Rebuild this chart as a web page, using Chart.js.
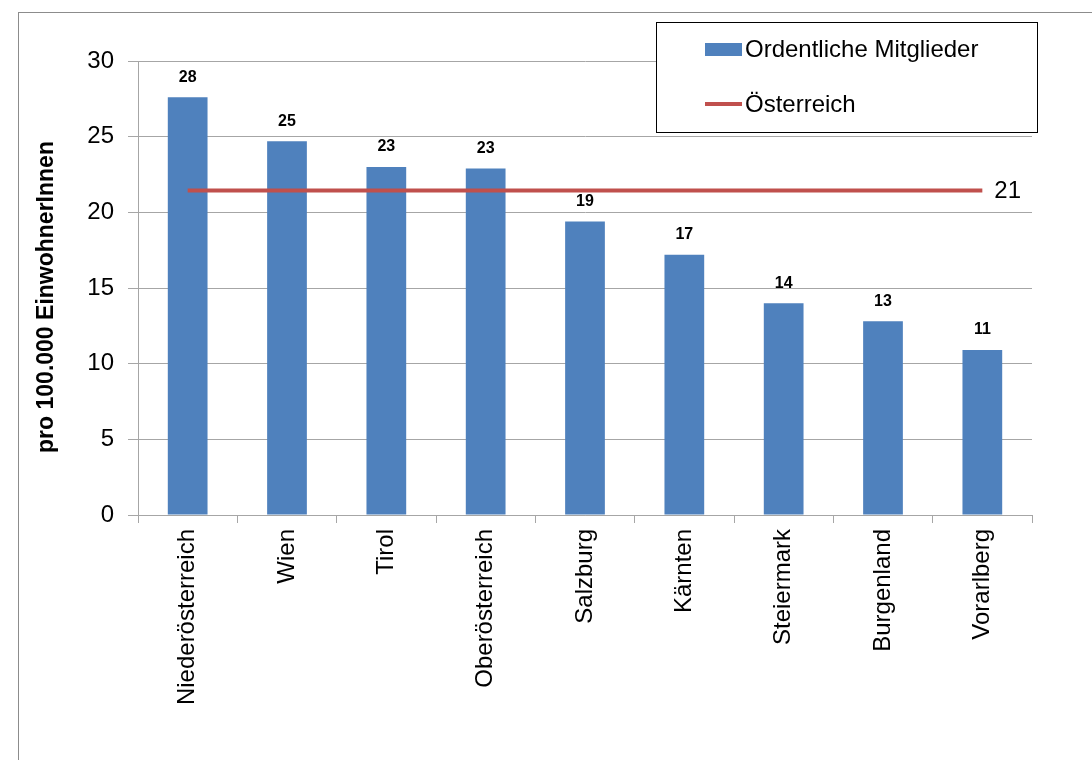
<!DOCTYPE html>
<html lang="de">
<head>
<meta charset="utf-8">
<title>Ordentliche Mitglieder pro 100.000 EinwohnerInnen</title>
<script src="https://cdn.jsdelivr.net/npm/chart.js@4/dist/chart.umd.min.js"></script>
<style>
  html, body { margin: 0; padding: 0; background: #fff; }
  #chart { display: block; }
</style>
</head>
<body>
<canvas id="chart" width="1092" height="760"></canvas>
<script>
// Bundesländer und Werte (Mitglieder pro 100.000 EinwohnerInnen)
const laender = ['Niederösterreich', 'Wien', 'Tirol', 'Oberösterreich', 'Salzburg', 'Kärnten', 'Steiermark', 'Burgenland', 'Vorarlberg'];
const mitglieder = [27.6, 24.7, 23.0, 22.9, 19.4, 17.2, 14.0, 12.8, 10.9];
const oesterreich = 21.45;
const yTicks = [0, 5, 10, 15, 20, 25, 30];

const FONT = "'Liberation Sans', Arial, sans-serif";
const BLAU = '#4f81bd';
const ROT = '#c0504d';
const GRAU = '#a6a6a6';

// Rahmen um die ganze Grafik
const frame = {
  id: 'frame',
  beforeDraw(chart) {
    const { ctx } = chart;
    ctx.save();
    ctx.fillStyle = '#fff';
    ctx.fillRect(0, 0, chart.width, chart.height);
    ctx.strokeStyle = '#8c8c8c';
    ctx.lineWidth = 1;
    ctx.strokeRect(18.5, 12.5, chart.width + 20, chart.height + 20);
    ctx.restore();
  },
};

// Zahlen über den Balken und Wert am Ende der Österreich-Linie
const valueLabels = {
  id: 'valueLabels',
  afterDatasetsDraw(chart) {
    const { ctx } = chart;
    ctx.save();
    ctx.fillStyle = '#000';
    ctx.textAlign = 'center';
    ctx.textBaseline = 'bottom';
    ctx.font = 'bold 16px ' + FONT;
    chart.getDatasetMeta(0).data.forEach((bar, i) => {
      ctx.fillText(Math.round(mitglieder[i]), bar.x, bar.y - 12);
    });
    const pts = chart.getDatasetMeta(1).data;
    const last = pts[pts.length - 1];
    ctx.font = '24px ' + FONT;
    ctx.textAlign = 'left';
    ctx.textBaseline = 'middle';
    ctx.fillText(Math.round(oesterreich), last.x + 12, last.y + 1);
    ctx.restore();
  },
};

// Legende im Kasten oben rechts, Achsentitel links
const legendBox = {
  id: 'legendBox',
  afterDraw(chart) {
    const { ctx } = chart;
    ctx.save();
    ctx.fillStyle = '#fff';
    ctx.fillRect(656, 22, 381, 110);
    ctx.strokeStyle = '#000';
    ctx.lineWidth = 1;
    ctx.strokeRect(656.5, 22.5, 381, 110);

    ctx.fillStyle = BLAU;
    ctx.fillRect(705, 43, 37, 13);
    ctx.strokeStyle = ROT;
    ctx.lineWidth = 4;
    ctx.beginPath();
    ctx.moveTo(705, 104);
    ctx.lineTo(742, 104);
    ctx.stroke();

    ctx.fillStyle = '#000';
    ctx.font = '24px ' + FONT;
    ctx.textBaseline = 'middle';
    ctx.textAlign = 'left';
    ctx.fillText(chart.data.datasets[0].label, 745, 50);
    ctx.fillText(chart.data.datasets[1].label, 745, 105);

    ctx.translate(47, 297);
    ctx.rotate(-Math.PI / 2);
    ctx.textAlign = 'center';
    ctx.font = 'bold 23px ' + FONT;
    ctx.fillText('pro 100.000 EinwohnerInnen', 0, 0);
    ctx.restore();
  },
};

new Chart(document.getElementById('chart'), {
  data: {
    labels: laender,
    datasets: [
      {
        type: 'line',
        label: 'Österreich',
        data: laender.map(() => oesterreich),
        borderColor: ROT,
        borderWidth: 4,
        pointRadius: 0,
        order: 0,
      },
      {
        type: 'bar',
        label: 'Ordentliche Mitglieder',
        data: mitglieder,
        backgroundColor: BLAU,
        categoryPercentage: 1,
        barPercentage: 0.4,
        order: 1,
      },
    ].reverse(),
  },
  options: {
    responsive: false,
    animation: false,
    layout: { padding: { top: 61, right: 60, left: 0, bottom: 0 } },
    plugins: {
      legend: { display: false },
      tooltip: { enabled: false },
    },
    scales: {
      x: {
        offset: true,
        grid: { display: true, drawOnChartArea: false, drawTicks: true, tickLength: 8, color: GRAU, offset: true },
        border: { color: GRAU },
        ticks: {
          minRotation: 90,
          maxRotation: 90,
          padding: 6,
          color: '#000',
          font: { family: FONT, size: 24 },
        },
        afterFit(scale) { scale.height = 760 - 515; },
      },
      y: {
        min: 0,
        max: 30,
        afterBuildTicks(scale) { scale.ticks = yTicks.map(v => ({ value: v })); },
        grid: { color: GRAU, tickLength: 10 },
        border: { color: GRAU },
        ticks: {
          padding: 14,
          color: '#000',
          font: { family: FONT, size: 24 },
        },
        afterFit(scale) { scale.width = 138; },
      },
    },
  },
  plugins: [frame, valueLabels, legendBox],
});
</script>
</body>
</html>
